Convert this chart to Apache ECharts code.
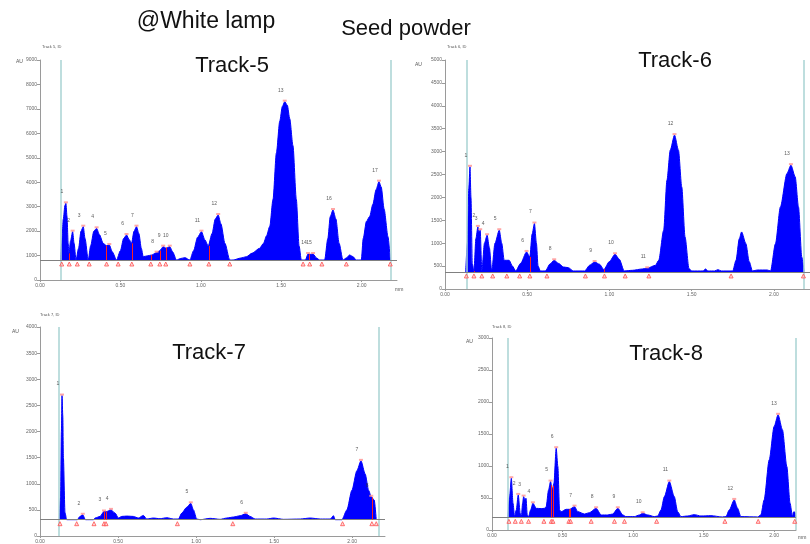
<!DOCTYPE html>
<html>
<head>
<meta charset="utf-8">
<script src="https://cdn.jsdelivr.net/npm/echarts@6/dist/echarts.min.js"></script>
<style>
html,body{margin:0;padding:0;background:#fff;}
#chart{width:810px;height:544px;}
</style>
</head>
<body>
<div id="chart"></div>
<script>
// ---------- DATA (Rf position, AU) ----------
const xTickLabels = ['0.00', '0.50', '1.00', '1.50', '2.00'];
const trackNames = ['Track-5', 'Track-6', 'Track-7', 'Track-8'];
const trackIds = ['Track 5, ID', 'Track 6, ID', 'Track 7, ID', 'Track 8, ID'];
const mainTitle = '@White lamp';
const subTitle = 'Seed powder';

const base5 = 818, base6 = 372, base7 = 312, base8 = 198;
const startEnd5 = [0.128, 2.178], startEnd6 = [0.126, 2.184], startEnd7 = [0.124, 2.165], startEnd8 = [0.109, 2.147];

const profile5 = [
[0.128,818],[0.135,1500],[0.145,2500],[0.155,3050],[0.161,3136],[0.168,2600],[0.175,1500],[0.180,1091],[0.190,1600],[0.203,1977],[0.212,1500],[0.224,818],[0.240,1300],[0.255,2000],[0.269,2182],[0.280,1700],[0.300,818],[0.315,1400],[0.335,2000],[0.352,2114],[0.370,1850],[0.393,1500],[0.414,1400],[0.431,1432],[0.450,1150],[0.476,818],[0.500,1200],[0.520,1700],[0.538,1841],[0.555,1650],[0.569,1500],[0.585,2000],[0.600,2182],[0.615,1900],[0.630,1300],[0.642,955],[0.670,990],[0.694,1023],[0.725,1118],[0.745,1200],[0.766,1364],[0.785,1300],[0.807,1364],[0.825,1150],[0.849,818],[0.875,880],[0.901,914],[0.932,818],[0.955,1200],[0.980,1750],[1.004,1977],[1.025,1650],[1.046,1391],[1.070,1900],[1.090,2500],[1.108,2659],[1.125,2300],[1.150,1500],[1.180,818],[1.201,818],[1.250,900],[1.284,955],[1.320,1100],[1.366,1300],[1.390,1500],[1.408,1800],[1.429,2200],[1.449,3300],[1.470,5200],[1.491,6500],[1.507,7100],[1.522,7295],[1.538,7150],[1.553,6600],[1.573,5500],[1.594,3300],[1.611,1400],[1.625,818],[1.650,818],[1.667,1064],[1.682,1050],[1.698,1064],[1.720,900],[1.739,818],[1.770,818],[1.790,1700],[1.805,2600],[1.822,2864],[1.840,2500],[1.860,1500],[1.884,818],[1.905,900],[1.925,1023],[1.945,960],[1.967,818],[1.998,818],[2.010,1700],[2.030,2400],[2.050,2600],[2.070,3100],[2.090,3700],[2.108,4023],[2.122,3800],[2.140,2900],[2.164,1773],[2.178,818]
];
const peaks5 = [[0.161,3136,'1'],[0.203,1977,'2'],[0.269,2182,'3'],[0.352,2114,'4'],[0.431,1432,'5'],[0.538,1841,'6'],[0.600,2182,'7'],[0.725,1118,'8'],[0.766,1364,'9'],[0.807,1364,'10'],[1.004,1977,'11'],[1.108,2659,'12'],[1.522,7295,'13'],[1.667,1064,'14'],[1.698,1064,'15'],[1.822,2864,'16'],[2.108,4023,'17']];
const bounds5 = [0.135,0.182,0.232,0.306,0.414,0.486,0.571,0.689,0.745,0.782,0.932,1.050,1.180,1.636,1.677,1.753,1.905,2.178];
const splits5 = [[0.182,1091],[0.414,1400],[0.571,1500],[0.689,1020],[0.745,1200],[0.782,1330],[1.050,1391],[1.677,1050]];

const profile6 = [
[0.126,372],[0.136,1000],[0.145,2200],[0.152,2668],[0.158,2000],[0.166,554],[0.176,394],[0.188,1100],[0.200,1356],[0.207,1250],[0.214,1283],[0.224,394],[0.240,1000],[0.256,1174],[0.270,900],[0.284,394],[0.304,1000],[0.330,1283],[0.345,1000],[0.360,627],[0.390,627],[0.410,500],[0.430,394],[0.460,560],[0.496,809],[0.516,700],[0.530,1200],[0.544,1429],[0.556,1000],[0.566,500],[0.580,394],[0.610,394],[0.640,550],[0.664,627],[0.690,560],[0.720,481],[0.750,466],[0.780,394],[0.850,394],[0.880,520],[0.910,590],[0.940,540],[0.966,423],[1.000,600],[1.034,758],[1.060,650],[1.090,394],[1.140,408],[1.200,437],[1.230,452],[1.280,518],[1.300,627],[1.330,1283],[1.350,2376],[1.370,3032],[1.396,3360],[1.420,3032],[1.440,2230],[1.460,1137],[1.484,445],[1.500,394],[1.570,394],[1.584,437],[1.600,394],[1.640,394],[1.660,423],[1.680,394],[1.750,394],[1.770,627],[1.790,1100],[1.804,1246],[1.830,991],[1.850,600],[1.870,394],[1.900,415],[1.960,415],[1.980,394],[2.010,991],[2.040,1793],[2.080,2522],[2.104,2704],[2.130,2449],[2.150,1793],[2.170,700],[2.184,372]
];
const peaks6 = [[0.152,2668,'1'],[0.200,1356,'2'],[0.214,1283,'3'],[0.256,1174,'4'],[0.330,1283,'5'],[0.496,809,'6'],[0.544,1429,'7'],[0.664,627,'8'],[0.910,590,'9'],[1.034,758,'10'],[1.230,452,'11'],[1.396,3360,'12'],[2.104,2704,'13']];
const bounds6 = [0.130,0.176,0.224,0.290,0.376,0.454,0.516,0.620,0.854,0.970,1.096,1.240,1.740,2.180];
const splits6 = [[0.176,394],[0.516,700],[0.970,430]];

const profile7 = [
[0.124,312],[0.132,750],[0.137,2000],[0.141,2688],[0.146,2300],[0.150,1500],[0.160,450],[0.171,312],[0.239,312],[0.256,375],[0.274,406],[0.291,312],[0.342,312],[0.353,344],[0.385,375],[0.410,469],[0.427,469],[0.455,500],[0.481,438],[0.502,344],[0.524,375],[0.556,381],[0.598,375],[0.630,344],[0.662,394],[0.684,325],[0.726,344],[0.769,331],[0.812,350],[0.855,325],[0.887,325],[0.908,438],[0.940,550],[0.966,625],[0.983,500],[1.004,325],[1.026,312],[1.090,338],[1.154,319],[1.197,344],[1.239,363],[1.282,388],[1.318,425],[1.346,375],[1.378,325],[1.453,325],[1.496,344],[1.560,319],[1.667,325],[1.731,344],[1.795,325],[1.859,325],[1.880,388],[1.891,312],[1.934,312],[1.966,500],[1.998,875],[2.030,1250],[2.056,1438],[2.083,1188],[2.105,875],[2.122,750],[2.141,688],[2.154,312]
];
const peaks7 = [[0.141,2688,'1'],[0.274,406,'2'],[0.410,469,'3'],[0.455,500,'4'],[0.966,625,'5'],[1.318,425,'6'],[2.056,1438,'7'],[2.122,750,'8']];
const bounds7 = [0.128,0.235,0.346,0.410,0.423,0.880,1.235,1.938,2.126,2.154];
const splits7 = [[0.410,469],[0.423,469],[2.126,740]];

const profile8 = [
[0.113,198],[0.125,522],[0.137,809],[0.149,417],[0.160,209],[0.172,313],[0.186,548],[0.200,261],[0.208,209],[0.217,417],[0.224,522],[0.233,470],[0.241,496],[0.250,235],[0.259,209],[0.274,313],[0.290,417],[0.314,339],[0.349,334],[0.373,339],[0.384,365],[0.401,626],[0.415,756],[0.427,626],[0.439,730],[0.455,1278],[0.467,991],[0.479,313],[0.491,287],[0.526,323],[0.550,323],[0.585,365],[0.608,287],[0.656,250],[0.691,271],[0.738,339],[0.774,235],[0.821,235],[0.856,250],[0.892,339],[0.927,235],[0.950,209],[1.009,209],[1.045,235],[1.068,261],[1.104,235],[1.151,209],[1.175,219],[1.198,313],[1.222,522],[1.257,756],[1.292,522],[1.316,287],[1.340,209],[1.387,219],[1.434,240],[1.481,219],[1.552,224],[1.634,203],[1.658,209],[1.682,313],[1.717,470],[1.741,339],[1.764,209],[1.882,203],[1.906,235],[1.929,470],[1.965,1096],[2.000,1617],[2.028,1800],[2.059,1565],[2.090,991],[2.113,417],[2.130,209],[2.137,282],[2.146,282],[2.153,198]
];
const peaks8 = [[0.137,809,'1'],[0.186,548,'2'],[0.224,522,'3'],[0.290,417,'4'],[0.415,756,'5'],[0.455,1278,'6'],[0.585,365,'7'],[0.738,339,'8'],[0.892,339,'9'],[1.068,261,'10'],[1.257,756,'11'],[1.717,470,'12'],[2.028,1800,'13']];
const bounds8 = [0.120,0.165,0.208,0.259,0.368,0.420,0.432,0.545,0.557,0.703,0.868,0.939,1.167,1.651,1.887,2.146];
const splits8 = [[0.420,700],[0.432,690],[0.545,323],[0.557,330]];

// ---------- LAYOUT ----------
const panels = [
  {grid:{left:40, top:60, width:357, height:220}, xMax:2.22, yMax:9000, yStep:1000, base:base5, teal:startEnd5, profile:profile5, peaks:peaks5, bounds:bounds5, splits:splits5,
   title:[232,66], id:[42,47], au:[16,62], mm:[395,290]},
  {grid:{left:445, top:60, width:370, height:229}, xMax:2.22, yMax:5000, yStep:500, base:base6, teal:startEnd6, profile:profile6, peaks:peaks6, bounds:bounds6, splits:splits6,
   title:[675,61], id:[447,47], au:[415,65], mm:null},
  {grid:{left:40, top:327, width:345, height:213}, xMax:2.21, yMax:4000, yStep:500, base:base7, teal:startEnd7, profile:profile7, peaks:peaks7, bounds:bounds7, splits:splits7,
   title:[209,353], id:[40,315], au:[12,332], mm:null},
  {grid:{left:492, top:338, width:304, height:192}, xMax:2.155, yMax:3000, yStep:500, base:base8, teal:startEnd8, profile:profile8, peaks:peaks8, bounds:bounds8, splits:splits8,
   title:[666,354], id:[492,327], au:[466,342], mm:[798,538]}
];

const FONT = '"Liberation Sans", Arial, sans-serif';
const grids = [], xAxes = [], yAxes = [], series = [], graphics = [];

panels.forEach((p, i) => {
  grids.push(Object.assign({containLabel:false}, p.grid));
  xAxes.push({
    type:'value', gridIndex:i, min:0, max:p.xMax, interval:0.5,
    axisLine:{show:true, lineStyle:{color:'#9a9a9a', width:1}},
    axisTick:{show:true, length:2, lineStyle:{color:'#9a9a9a'}},
    axisLabel:{fontSize:5, color:'#666', margin:3, fontFamily:FONT, showMaxLabel:false,
      formatter:(v)=>{const k=Math.round(v/0.5); return xTickLabels[k] !== undefined ? xTickLabels[k] : '';}},
    splitLine:{show:false}
  });
  yAxes.push({
    type:'value', gridIndex:i, min:0, max:p.yMax, interval:p.yStep,
    axisLine:{show:true, lineStyle:{color:'#9a9a9a', width:1}},
    axisTick:{show:true, length:3, lineStyle:{color:'#9a9a9a'}},
    axisLabel:{fontSize:5, color:'#666', margin:3, fontFamily:FONT, formatter:(v)=>String(v)},
    splitLine:{show:false}
  });
  const mlData = [
    {xAxis:p.teal[0], lineStyle:{color:'#a9d3d3', width:1.5, type:'solid'}},
    {xAxis:p.teal[1], lineStyle:{color:'#a9d3d3', width:1.5, type:'solid'}},
    {yAxis:p.base, lineStyle:{color:'#808080', width:1, type:'solid'}}
  ];
  p.splits.forEach(s => {
    mlData.push([{coord:[s[0], p.base], lineStyle:{color:'#ff2020', width:1, type:'solid'}}, {coord:[s[0], s[1]]}]);
  });
  series.push({
    type:'line', xAxisIndex:i, yAxisIndex:i, data:p.profile,
    showSymbol:false, smooth:0.25, smoothMonotone:'x', z:3,
    lineStyle:{color:'#0000ff', width:1},
    areaStyle:{color:'#0000ff', opacity:1, origin:p.base},
    markLine:{silent:true, symbol:'none', label:{show:false}, lineStyle:{type:'solid'}, data:mlData, z:4}
  });
  series.push({
    type:'scatter', xAxisIndex:i, yAxisIndex:i, z:5,
    data:p.peaks.map(d => ({value:[d[0], d[1]], name:d[2]})),
    symbol:'rect', symbolSize:[4,2], symbolOffset:[0,-1], itemStyle:{color:'#ff9090'},
    label:{show:true, formatter:'{b}', position:'top', offset:[-4,-2], fontSize:5, color:'#333', fontFamily:FONT}
  });
  series.push({
    type:'scatter', xAxisIndex:i, yAxisIndex:i, z:5,
    data:p.bounds.map(x => [x, p.base]),
    symbol:'triangle', symbolSize:[4,4], symbolOffset:[0,4],
    itemStyle:{color:'rgba(255,200,200,0.8)', borderColor:'#ff5050', borderWidth:1}
  });
  graphics.push({type:'text', x:p.title[0], y:p.title[1], style:{text:trackNames[i], font:'22px '+FONT, fill:'#111', textAlign:'center', textVerticalAlign:'middle'}});
  graphics.push({type:'text', x:p.id[0], y:p.id[1], style:{text:trackIds[i], font:'4px '+FONT, fill:'#555', textVerticalAlign:'middle'}});
  graphics.push({type:'text', x:p.au[0], y:p.au[1], style:{text:'AU', font:'5px '+FONT, fill:'#555', textVerticalAlign:'middle'}});
  if (p.mm) graphics.push({type:'text', x:p.mm[0], y:p.mm[1], style:{text:'mm', font:'5px '+FONT, fill:'#555', textVerticalAlign:'middle'}});
});

graphics.push({type:'text', x:206, y:22, style:{text:mainTitle, font:'23px '+FONT, fill:'#111', textAlign:'center', textVerticalAlign:'middle'}});
graphics.push({type:'text', x:406, y:29, style:{text:subTitle, font:'22px '+FONT, fill:'#111', textAlign:'center', textVerticalAlign:'middle'}});

const chart = echarts.init(document.getElementById('chart'), null, {renderer:'canvas'});
chart.setOption({
  animation:false,
  backgroundColor:'#ffffff',
  textStyle:{fontFamily:FONT},
  grid:grids, xAxis:xAxes, yAxis:yAxes, series:series, graphic:graphics
});
</script>
</body>
</html>
